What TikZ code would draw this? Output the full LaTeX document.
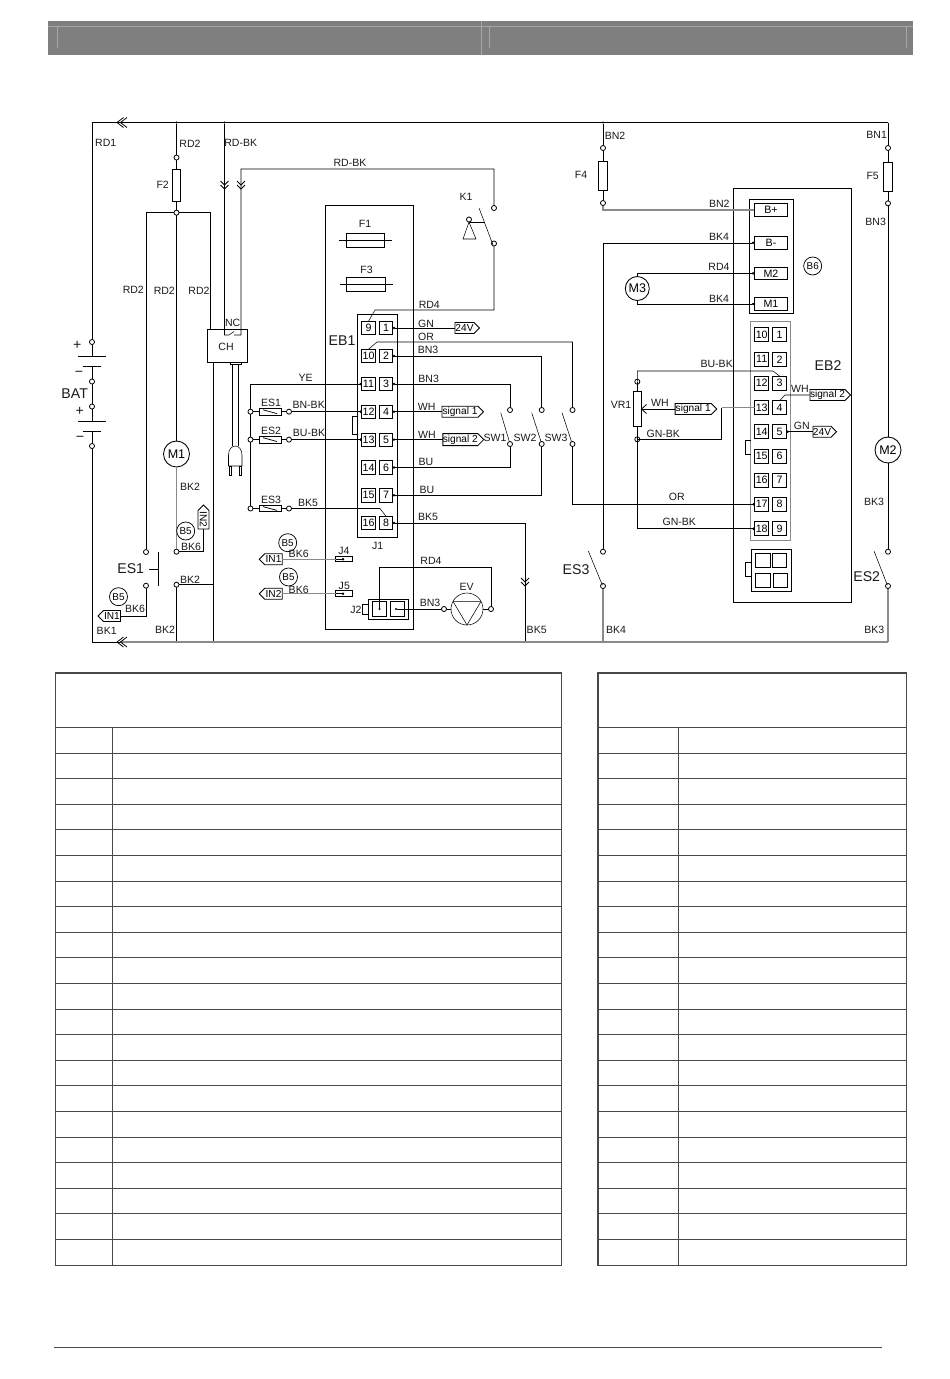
\documentclass[tikz,border=0pt]{standalone}
\usepackage{fontspec}
\setmainfont{Liberation Sans}
\usetikzlibrary{shapes.symbols,arrows.meta}
\definecolor{hdr}{HTML}{7F7F7F}
\definecolor{hln}{HTML}{A6A6A6}
\definecolor{gw}{HTML}{8A8A8A}
\definecolor{tb}{HTML}{484848}
\tikzset{
  x=0.75pt,y=-0.75pt,line width=0.88pt,
  >={Circle[length=1.8pt]},
  lab/.style={font=\fontsize{7.9}{8}\selectfont,inner sep=0,text=black!90},
  big/.style={font=\fontsize{10.6}{11}\selectfont,inner sep=0,text=black!90},
  rbox/.style 2 args={draw,rectangle,inner sep=0,outer sep=0,minimum width=#1*0.75pt,minimum height=#2*0.75pt,font=\fontsize{8}{8}\selectfont},
  term/.style={draw,circle,inner sep=0,outer sep=0,minimum size=3.8pt,line width=0.6pt},
  dot/.style={fill,circle,inner sep=0,minimum size=2.2pt},
  refc/.style={draw,circle,inner sep=0,outer sep=0,minimum size=13.5pt,line width=0.55pt,font=\fontsize{7.4}{8}\selectfont},
  mot/.style={draw,circle,inner sep=0,outer sep=0,minimum size=19.5pt,line width=0.65pt,font=\fontsize{9.4}{10}\selectfont},
  sigtag/.style n args={3}{signal,signal to=#1,draw,inner sep=0,outer sep=0,minimum width=#2*0.75pt,minimum height=#3*0.75pt,line width=0.65pt,font=\fontsize{7.6}{8}\selectfont},
  pinbox/.style={rbox={13.5}{13.5}},
  qbox/.style={rbox={14}{14}},
  cbox/.style={rbox={22}{6.5},path picture={\draw[line width=0.55pt] ([xshift=3pt,yshift=-1pt]path picture bounding box.north west) -- ([xshift=-3pt,yshift=1pt]path picture bounding box.south east);}},
  gwire/.style={draw=gw,line width=1.2pt},
  gthin/.style={draw=gw,line width=0.85pt},
  tbl/.style={draw=tb,line width=0.85pt},
  chevl/.pic={\draw[line width=0.6pt] (3.5,-5)--(-3,0)--(3.5,5) (7,-5)--(0.5,0)--(7,5);},
  chevd/.pic={\draw[line width=0.6pt] (-4,-5)--(0,-1)--(4,-5) (-4,-1)--(0,3)--(4,-1);}
}
\begin{document}
\begin{tikzpicture}
\useasboundingbox (0,0) rectangle (950,1379);
% header band
\fill[hdr] (48,21) rectangle (913,54.5);
\draw[hln,line width=0.5pt] (48,26)--(913,26) (57,26)--(57,48) (481,21)--(481,54.5) (489,26)--(489,48) (906,26)--(906,48);
% tables
\draw[tbl] (55.5,673) rectangle (561.5,1265.5) (598,673) rectangle (906.5,1265.5);
\draw[tbl] (112.5,727.5)--(112.5,1265.5) (678.5,727.5)--(678.5,1265.5);
\foreach \i in {0,...,20}{
  \pgfmathsetmacro\yy{727.5+25.6*\i}
  \draw[tbl] (55.5,\yy)--(561.5,\yy) (598,\yy)--(906.5,\yy);
}
\draw[tb,line width=0.7pt] (54,1347)--(882,1347);

% ---------- labels
\foreach \n/\x/\y/\t in {
 a1/105.7/142.7/RD1,a2/190/144/RD2,a3/240.7/143/RD-BK,a4/350/163/RD-BK,a5/162.7/185/F2,a6/466/197/K1,
 a7/365/224/F1,a8/366.5/270/F3,a9/133.3/290.3/RD2,a10/164.3/290.5/RD2,a11/199/291/RD2,a12/232.7/323/NC,
 a14/429.3/305/RD4,a15/426/324/GN,a16/426/337/OR,a17/428/350/BN3,a18/428.7/379/BN3,
 a19/305.7/378/YE,a20/308.7/405/BN-BK,a21/309/433/BU-BK,a22/426.7/406.5/WH,a23/427/434.5/WH,a24/426/462/BU,a25/427/490/BU,
 a26/308/503/BK5,a27/428/517/BK5,a28/377.7/546/J1,a29/431/561/RD4,a30/298.7/553.5/BK6,a31/344/550.7/J4,
 a32/344.3/586/J5,a33/298.7/589.5/BK6,a34/356/609.7/J2,a35/430/603/BN3,a36/466.7/587/EV,a37/536.7/630/BK5,
 a38/190/487/BK2,a39/191/547/BK6,a40/190/580/BK2,a41/135/609/BK6,a42/106.7/631/BK1,a43/165/630/BK2,
 a44/271/403/ES1,a45/271/431/ES2,a46/271/500/ES3,a47/495/438/SW1,a48/525/438/SW2,a49/556/438/SW3,
 a50/615/136/BN2,a51/581/175/F4,a52/719.3/204/BN2,a53/719/237/BK4,a54/719/267/RD4,a55/719/299/BK4,
 a56/716.7/364/BU-BK,a57/876.7/135/BN1,a58/872.7/176/F5,a59/875.7/221.5/BN3,a60/621/405/VR1,a61/660/403/WH,
 a62/663.3/434/GN-BK,a63/800/389/WH,a64/801.7/426/GN,a65/676.7/497/OR,a66/679.3/522/GN-BK,a67/874/502/BK3,
 a68/616/629.5/BK4,a69/874.3/629.5/BK3}
 {\node[lab] (\n) at (\x,\y) {\t};}
\foreach \n/\x/\y/\t in {
 b1/342/341/EB1,b2/74.7/394/BAT,b3/130.7/569/ES1,b4/828/366/EB2,b5/576/570/ES3,b6/866.7/577/ES2,
 b7/77.3/345/+,b8/79/374/−,b9/79.7/411/+,b10/80/439/−}
 {\node[big] (\n) at (\x,\y) {\t};}

% ---------- enclosures
\node[rbox={87.5}{424}] (eb1) at (369.3,417) {};
\node[rbox={40}{223}] (j1) at (377,425.5) {};
\node[rbox={117.6}{414}] (eb2) at (792.5,395.3) {};
\node[rbox={44}{114}] (b6box) at (771,256.3) {};
\node[draw=gw,rectangle,inner sep=0,outer sep=0,minimum width=30pt,minimum height=164.5pt] (j2box) at (770.7,430.6) {};
\node[rbox={40}{33}] (ch) at (227,345.5) {};
\node[lab] (chl) at (226,347) {CH};

% EB1 pins
\foreach \yy/\l/\r in {328/9/1,356/10/2,384/11/3,411.7/12/4,439.6/13/5,467.5/14/6,495.3/15/7,523/16/8}{
  \node[pinbox] (L\l) at (368.5,\yy) {\l};
  \node[pinbox] (R\r) at (386,\yy) {\r};
}
% EB2 pins
\foreach \yy/\l/\r in {334.7/10/1,359.3/11/2,383/12/3,407.7/13/4,431.7/14/5,456/15/6,480/16/7,504.3/17/8,528.7/18/9}{
  \node[qbox] (QL\l) at (761.7,\yy) {\l};
  \node[qbox] (QR\r) at (779.5,\yy) {\r};
}
% B6 terminals
\node[rbox={33.4}{13}] (bp) at (771,210) {B+};
\node[rbox={33.4}{12.5}] (bm) at (771,242.8) {B-};
\node[rbox={33.4}{12.7}] (m2p) at (771,273.4) {M2};
\node[rbox={33.4}{13.4}] (m1p) at (771,304) {M1};
\node[refc] (b6) at (812.7,266) {B6};

% fuses
\node[rbox={8}{31.7}] (f2) at (176.5,185) {};
\node[rbox={9.4}{29.4}] (f4) at (603,176) {};
\node[rbox={9.4}{29.4}] (f5) at (888,177) {};
\node[rbox={38}{14}] (f1) at (365,240) {};
\node[rbox={39.5}{14.7}] (f3) at (365.7,284.3) {};
\coordinate (f1a) at (339,240); \coordinate (f1b) at (392,240);
\coordinate (f3a) at (340,284.3); \coordinate (f3b) at (393,284.3);
\draw (f1a)--(f1b) (f3a)--(f3b);

% terminals
\foreach \n/\x/\y in {
 t1/176.5/157.5,t2/176.5/212.7,tb1/92/342,tb2/92/381.5,tb3/92/406.5,tb4/92/446,
 es1a/146/552,es1b/146/585.7,m1t/176.5/551.7,g1/176.5/584.7,
 k1a/494/208,k1b/494/243.5,k1c/469/219.5,
 sw1a/510/410,sw2a/541.7/410,sw3a/572.5/410,sw1b/510/444,sw2b/541.7/444,sw3b/572.5/444,
 c1/250.5/411.7,c2/250.5/439.6,c3/250.5/508.5,d1/289/411.7,d2/289/439.6,d3/289/508.5,
 ev1/444/609,ev2/491/609,
 f4a/603/148,f4b/603/203,f5a/888/148,f5b/888/203.3,
 es3a/603/551.7,es3b/603/586,es2a/888/551.7,es2b/888/586,
 vr1a/637.3/381.7,vr1b/637.3/439.3}
 {\node[term] (\n) at (\x,\y) {};}

% junction dots on the buses
\foreach \n/\x/\y in {j1d/176.5/122.5,j2d/224.5/122.5,j3d/603/122.5,j4d/176.5/642,j5d/525/642,j6d/603/642,j7d/213.5/642}
 {\node[dot,minimum size=1.8pt] (\n) at (\x,\y) {};}

% bus corners
\coordinate (tl) at (92,122.5); \coordinate (tr) at (888,122.5);
\coordinate (bl) at (92,642); \coordinate (br) at (888,642);
\coordinate (chevb) at (120,642);
\draw (tl)--(tr);
\draw (bl)--(chevb);
\draw[gwire] (chevb)--(br);
\pic at (120,122.5) {chevl};
\pic at (120,642) {chevl};

% battery
\coordinate (pl1) at (92,356); \coordinate (pl2) at (92,366.7);
\coordinate (pl3) at (92,421); \coordinate (pl4) at (92,431);
\draw (tl)--(tb1) (tb1)--(pl1) (pl2)--(tb2) (tb2)--(tb3) (tb3)--(pl3) (pl4)--(tb4) (tb4)--(bl);
\draw (78,356)--(105.7,356) (83,366.7)--(101,366.7) (78,421)--(105.7,421) (83,431)--(101,431);

% F2 branch
\draw (j1d)--(t1) (t1)--(f2.north) (f2.south)--(t2);
\coordinate (r2a) at (146,212.7); \coordinate (r2b) at (210,212.7);
\draw (t2)--(r2a)--(es1a);
\draw (t2)--(r2b)--(r2b |- ch.north);
\node[mot] (m1) at (176.5,454) {M1};
\draw (t2)--(m1);
\draw[gthin] (m1)--(m1t);
% M1 lower
\node[refc] (b5a) at (185.7,531) {B5};
\node[sigtag={west}{24}{11},rotate=-90] (in2a) at (203.5,519.7) {IN2};
\draw (m1t)-|(in2a.east);
% ES1
\draw (158,551.7)--(158,585.7);
\coordinate (es1m) at (158,569); \coordinate (es1n) at (149,569);
\draw (es1n)--(es1m);
\node[sigtag={west}{22.5}{11}] (in1a) at (112,616) {IN1};
\node[refc] (b5b) at (118.5,596.7) {B5};
\draw (es1b)|-(in1a.east);
\draw (g1)--(j4d);
\coordinate (g2) at (213.5,584.7);
\draw (g1)--(g2);
\draw (ch.south -| g2)--(j7d);

% RD-BK into CH
\coordinate (nc1) at (224.5,335); \coordinate (nc2) at (241,335);
\coordinate (rb1) at (241,169); \coordinate (rb2) at (494,169);
\draw (j2d)--(nc1)--(229,335)--(234,331.5) (234,335)--(nc2)--(rb1)--(rb2)--(k1a);
\pic at (224.5,186) {chevd};
\pic at (241,186) {chevd};

% K1
\draw (479,208)--(493,245);
\draw (469,222)--(485,222);
\draw (k1c.south)--(463,239)--(476,239)--cycle;
\coordinate (rd4a) at (375,310);
\draw (k1b)|-(rd4a)--(L9.north);

% plug
\draw (230,362)rectangle(241,364);
\draw (232.7,364)--(232.7,446) (238.7,364)--(238.7,446);
\draw (228.5,466)--(228.5,455) .. controls (228.5,449) and (232,446) .. (235.3,446) .. controls (238.5,446) and (242,449) .. (242,455) -- (242,466)--cycle;
\draw (229.5,466)rectangle(231.5,475.7) (239,466)rectangle(241,475.7);

% EB1 right side
\node[sigtag={east}{24.4}{11}] (v24a) at (464.5,328) {24V};
\node[sigtag={east}{41.4}{11}] (s1a) at (460,411.7) {signal 1};
\node[sigtag={east}{40.7}{12}] (s2a) at (460.3,439.6) {signal 2};
\draw[<-] (R1.east)--(v24a.west);
\draw[<-] (R4.east)--(s1a.west);
\draw[<-] (R5.east)--(s2a.west);
\coordinate (or1) at (377,342); \coordinate (or2) at (572.5,342);
\draw (L10.north)--(or1)--(or2)--(sw3a);
\draw[<-] (R2.east)-|(sw2a);
\draw[<-] (R3.east)-|(sw1a);
\draw[<-] (R6.east)-|(sw1b);
\draw[<-] (R7.east)-|(sw2b);
\draw (500.7,412.7)--(509.3,441.5) (531.7,412.7)--(541,441.5) (562,412.7)--(571.5,441.5);
\coordinate (bk5a) at (525,523);
\draw[<-] (R8.east)--(bk5a)--(j5d);
\pic at (525,583) {chevd};
% SW3 to EB2
\coordinate (or3) at (572.5,504.3);
\draw[->] (sw3b)--(or3)--(QL17.west);

% EB1 left side
\coordinate (ye1) at (250.5,384);
\draw[->] (ye1)--(L11.west);
\draw (ye1)--(c1) (c1)--(c2) (c2)--(c3);
\node[cbox] (es1c) at (270,411.7) {};
\node[cbox] (es2c) at (270,439.6) {};
\node[cbox] (es3c) at (270,508.5) {};
\draw (c1)--(es1c) (es1c)--(d1);
\draw (c2)--(es2c) (es2c)--(d2);
\draw (c3)--(es3c) (es3c)--(d3);
\draw[->] (d1)--(L12.west);
\draw[->] (d2)--(L13.west);
\coordinate (bk5b) at (380,508.5);
\draw (d3)--(bk5b)--(R8.north);
\coordinate (lk1) at (352,416.7); \coordinate (lk2) at (352,434);
\draw (lk1 -| j1.west)--(lk1)--(lk2)--(lk2 -| j1.west);

% J4 J5
\node[sigtag={west}{23}{11}] (in1b) at (273.5,559.2) {IN1};
\node[sigtag={west}{23}{11}] (in2b) at (273.5,593.7) {IN2};
\node[rbox={17}{5}] (j4) at (344.2,559.2) {};
\node[rbox={17}{6}] (j5) at (344.2,593.7) {};
\draw[gthin] (in1b.east)--(j4.west);
\draw[gthin] (in2b.east)--(j5.west);
\draw[->,line width=0.55pt] (j4.west)--(j4.center);
\draw[->,line width=0.55pt] (j5.west)--(j5.center);
\node[refc] (b5c) at (287.7,542.7) {B5};
\node[refc] (b5d) at (288.5,577) {B5};

% J2 and EV
\node[rbox={40}{20.3}] (j2o) at (388,609.2) {};
\node[rbox={6}{10}] (j2t) at (365,609) {};
\node[rbox={14.5}{15}] (j2a) at (379.5,609) {};
\node[rbox={14.5}{15}] (j2b) at (397.5,609) {};
\node[dot,minimum size=1.6pt] (j2ad) at (379.5,609) {};
\node[dot,minimum size=1.6pt] (j2bd) at (396,609) {};
\coordinate (rdp1) at (379.5,567); \coordinate (rdp2) at (491,567);
\draw (j2ad)--(rdp1)--(rdp2)--(ev2);
\draw (j2bd)--(ev1);
\node[draw,circle,inner sep=0,outer sep=0,minimum size=24pt] (ev) at (467,609) {};
\draw (ev1)--(ev.west) (ev.east)--(ev2);
\draw (453.2,601.7)--(480.8,601.7) (453.2,601.7)--(467,625) (480.8,601.7)--(467,625);

% F4 branch
\draw (j3d)--(f4a) (f4a)--(f4.north) (f4.south)--(f4b);
\coordinate (bn2a) at (603,210);
\draw[gwire] (f4b)--(bn2a)--(bp.west);
\coordinate (bk4a) at (603,242.8);
\draw[<-] (bm.west)--(bk4a)--(es3a);
\draw (588.3,551)--(602.3,585);
\draw[gwire] (es3b)--(j6d);
% M3
\node[mot,minimum size=18pt] (m3) at (637.3,288.5) {M3};
\draw[<-] (m2p.west)-|(m3.north);
\draw[<-] (m1p.west)-|(m3.south);
% F5 branch
\draw (tr)--(f5a) (f5a)--(f5.north) (f5.south)--(f5b);
\node[mot] (m2) at (888,450) {M2};
\draw (f5b)--(m2) (m2)--(es2a);
\draw (874,551)--(887.3,585);
\draw[gwire] (es2b)--(br);

% VR1
\node[rbox={8.4}{34.7}] (vr1) at (637.3,409) {};
\node[sigtag={east}{41.7}{11}] (s1b) at (693.2,409) {signal 1};
\draw (s1b.west)--(vr1.east);
\draw[line width=0.6pt] (646.5,404.5)--(vr1.east)--(646.5,413.5);
\coordinate (bu1) at (773,371);
\draw (vr1a.center)--(vr1a |- bu1)--(bu1)--(QR3.north);
\draw (vr1a.center)--(vr1.north);
\draw (vr1.south)--(vr1b.center);
\coordinate (gb1) at (721.7,439.3); \coordinate (gb2) at (721.7,407.7);
\draw (vr1b.center)--(gb1)--(gb2);
\draw[gthin] (gb2)--(QL13.west);
\coordinate (gb3) at (637.3,528.7);
\draw[->] (vr1b.center)--(gb3)--(QL18.west);
% pins on the right of EB2
\node[sigtag={east}{39}{11}] (s2b) at (827.5,395) {signal 2};
\node[sigtag={east}{22.5}{11}] (v24b) at (822,431.7) {24V};
\coordinate (wh2) at (785,395);
\draw (QR4.north)--(wh2)--(s2b.west);
\draw[<-] (QR5.east)--(v24b.west);
\coordinate (lk3) at (745.3,440.7); \coordinate (lk4) at (745.3,454);
\draw (lk3 -| j2box.west)--(lk3)--(lk4)--(lk4 -| j2box.west);
% bottom connector of EB2
\node[rbox={40.4}{42}] (cn) at (771.5,570.3) {};
\node[rbox={14.7}{14.4}] (cn1) at (762.6,560.5) {};
\node[rbox={14.4}{14.4}] (cn2) at (779.5,560.5) {};
\node[rbox={14.7}{14.4}] (cn3) at (762.6,580.5) {};
\node[rbox={14.7}{14.4}] (cn4) at (780.3,580.5) {};
\node[rbox={6}{13.7}] (cnt) at (748.3,569.2) {};
\end{tikzpicture}
\end{document}
